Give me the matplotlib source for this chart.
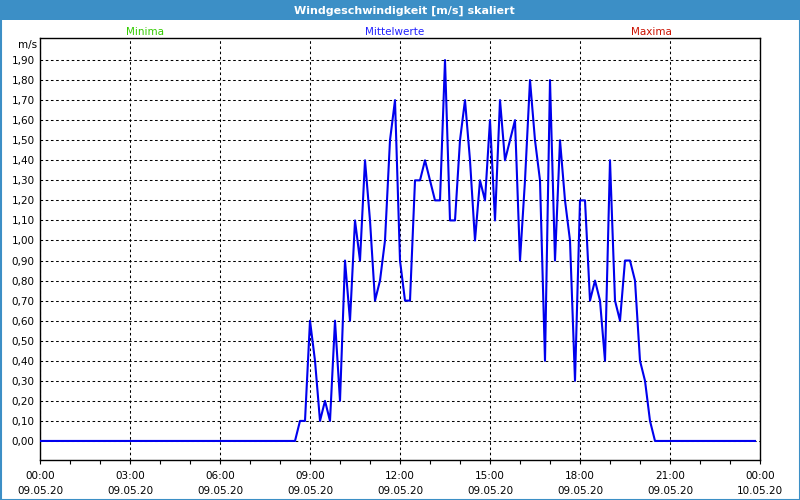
import numpy as np
import matplotlib
matplotlib.use("Agg")
import matplotlib.pyplot as plt
from matplotlib.patches import Rectangle

# Mittelwerte, 10-Minuten-Werte (Rest des Tages = 0)
zeiten = ["00:00", "08:30", "08:40", "08:50", "09:00", "09:10", "09:20", "09:30", "09:40", "09:50",
          "10:00", "10:10", "10:20", "10:30", "10:40", "10:50", "11:00", "11:10", "11:20", "11:30",
          "11:40", "11:50", "12:00", "12:10", "12:20", "12:30", "12:40", "12:50", "13:00", "13:10",
          "13:20", "13:30", "13:40", "13:50", "14:00", "14:10", "14:20", "14:30", "14:40", "14:50",
          "15:00", "15:10", "15:20", "15:30", "15:40", "15:50", "16:00", "16:10", "16:20", "16:30",
          "16:40", "16:50", "17:00", "17:10", "17:20", "17:30", "17:40", "17:50", "18:00", "18:10",
          "18:20", "18:30", "18:40", "18:50", "19:00", "19:10", "19:20", "19:30", "19:40", "19:50",
          "20:00", "20:10", "20:20", "20:30", "23:50"]
mittelwerte = [0.0, 0.0, 0.1, 0.1, 0.6, 0.4, 0.1, 0.2, 0.1, 0.6,
               0.2, 0.9, 0.6, 1.1, 0.9, 1.4, 1.1, 0.7, 0.8, 1.0,
               1.5, 1.7, 0.9, 0.7, 0.7, 1.3, 1.3, 1.4, 1.3, 1.2,
               1.2, 1.9, 1.1, 1.1, 1.5, 1.7, 1.4, 1.0, 1.3, 1.2,
               1.6, 1.1, 1.7, 1.4, 1.5, 1.6, 0.9, 1.3, 1.8, 1.5,
               1.3, 0.4, 1.8, 0.9, 1.5, 1.2, 1.0, 0.3, 1.2, 1.2,
               0.7, 0.8, 0.7, 0.4, 1.4, 0.7, 0.6, 0.9, 0.9, 0.8,
               0.4, 0.3, 0.1, 0.0, 0.0]

x_ticks = [0, 3, 6, 9, 12, 15, 18, 21, 24]
x_labels = ["00:00\n09.05.20", "03:00\n09.05.20", "06:00\n09.05.20", "09:00\n09.05.20",
            "12:00\n09.05.20", "15:00\n09.05.20", "18:00\n09.05.20", "21:00\n09.05.20",
            "00:00\n10.05.20"]
y_ticks = [i / 10 for i in range(20)]

stunden = [int(t[:2]) + int(t[3:]) / 60 for t in zeiten]

blau_rahmen = "#3c8fc6"

fig = plt.figure(figsize=(8, 5), dpi=100)
fig.patch.set_facecolor("white")

# Titelleiste + Rahmen
fig.patches.append(Rectangle((0, 1 - 20 / 500), 1, 20 / 500, transform=fig.transFigure,
                             facecolor=blau_rahmen, edgecolor="none", zorder=0))
fig.patches.append(Rectangle((0.5 / 800, 0.5 / 500), 799 / 800, 499 / 500, transform=fig.transFigure,
                             facecolor="none", edgecolor=blau_rahmen, linewidth=1.5, zorder=0))
fig.text(0.505, 1 - 11 / 500, "Windgeschwindigkeit [m/s] skaliert", color="white",
         fontsize=8, fontweight="bold", ha="center", va="center")

fig.text(145 / 800, 1 - 32 / 500, "Minima", color="#33cc00", fontsize=7.5, ha="center", va="center")
fig.text(395 / 800, 1 - 32 / 500, "Mittelwerte", color="#2020ff", fontsize=7.5, ha="center", va="center")
fig.text(651 / 800, 1 - 32 / 500, "Maxima", color="#cc1100", fontsize=7.5, ha="center", va="center")
fig.text(28 / 800, 1 - 45 / 500, "m/s", color="black", fontsize=7.5, ha="center", va="center")

ax = fig.add_axes([40 / 800, 40 / 500, 720 / 800, 422 / 500])
ax.plot(stunden, mittelwerte, color="#0000ee", linewidth=1.5, zorder=3)

ax.set_xlim(0, 24)
ax.set_ylim(-0.095, 2.01)
ax.set_xticks(x_ticks)
ax.set_xticklabels(x_labels, fontsize=7.5, linespacing=1.6)
ax.set_xticks(range(25), minor=True)
ax.set_yticks(y_ticks)
ax.set_yticklabels([f"{v:.2f}".replace(".", ",") for v in y_ticks], fontsize=7.5)

ax.tick_params(axis="x", which="both", direction="out", length=3, width=0.8, pad=5)
ax.tick_params(axis="y", length=0, pad=4)
ax.grid(True, which="major", color="black", linestyle=(0, (2.5, 2.5)), linewidth=0.75)

for s in ax.spines.values():
    s.set_color("black")
    s.set_linewidth(1)

plt.savefig("out.png", dpi=100)
